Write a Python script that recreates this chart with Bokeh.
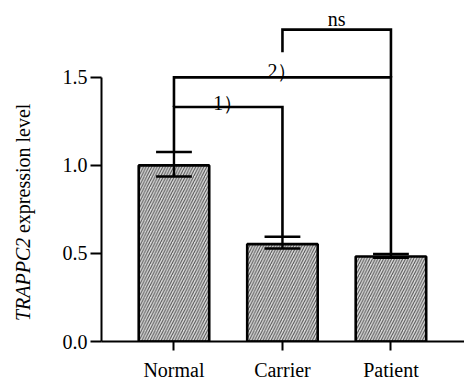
import math
from bokeh.plotting import figure
from bokeh.layouts import row
from bokeh.models import Range1d, FixedTicker, ColumnDataSource
from bokeh.embed import file_html
from bokeh.resources import INLINE

# ---- data ----
categories = ["Normal", "Carrier", "Patient"]
means = [1.00, 0.553, 0.483]
err_lower = [0.937, 0.528, 0.476]
err_upper = [1.076, 0.595, 0.497]

y_ticks = [0.0, 0.5, 1.0, 1.5]
y_tick_labels = ["0.0", "0.5", "1.0", "1.5"]

# significance brackets (index of left / right group)
br_left = [0, 0, 1]
br_right = [1, 2, 2]
br_height = [1.332, 1.500, 1.771]
br_left_bottom = [1.076, 1.332, 1.642]
br_right_bottom = [0.595, 0.497, 1.500]
br_labels = ["1）", "2）", "ns"]

y_title_italic = "TRAPPC2"
y_title_rest = "expression level"

FONT = "Liberation Serif"
xs = list(range(len(categories)))

H = 383
LEFT_W = 40
MAIN_W = 464 - LEFT_W
BOTTOM = 41
yr = Range1d(0, 1.9366)

p = figure(width=MAIN_W, height=H, output_backend="svg", toolbar_location=None,
           x_range=Range1d(-0.668, 2.678), y_range=yr,
           min_border_left=101 - LEFT_W, min_border_right=0, min_border_top=0,
           min_border_bottom=BOTTOM)
p.outline_line_color = None
p.grid.visible = False

# bars
p.vbar(x=xs, top=means, bottom=0, width=0.65,
       fill_color="#dcdcdc", line_color="black", line_width=2.6,
       hatch_pattern="/", hatch_color="#4a4a4a", hatch_scale=5.5,
       hatch_weight=1.0)

# error bars
cap = 0.33
p.segment(x0=xs, y0=err_lower, x1=xs, y1=err_upper,
          line_color="black", line_width=2.4)
p.segment(x0=[x - cap / 2 for x in xs], y0=err_upper,
          x1=[x + cap / 2 for x in xs], y1=err_upper,
          line_color="black", line_width=2.4)
p.segment(x0=[x - cap / 2 for x in xs], y0=err_lower,
          x1=[x + cap / 2 for x in xs], y1=err_lower,
          line_color="black", line_width=2.4)

# brackets
bx = [[xs[l], xs[l], xs[r], xs[r]] for l, r in zip(br_left, br_right)]
by = [[lb, h, h, rb] for lb, h, rb in zip(br_left_bottom, br_height, br_right_bottom)]
p.multi_line(xs=bx, ys=by, line_color="black", line_width=2.6,
             line_join="miter")

lab_src = ColumnDataSource(dict(
    x=[(xs[l] + xs[r]) / 2 for l, r in zip(br_left, br_right)],
    y=br_height, text=br_labels, yoff=[-4, -6, -11]))
p.text(x="x", y="y", text="text", source=lab_src, y_offset="yoff",
       text_align="center", text_baseline="alphabetic",
       text_font=FONT, text_font_size="20px", text_color="black")

# axes
for ax in (p.xaxis[0], p.yaxis[0]):
    ax.axis_line_width = 2
    ax.axis_line_color = "black"
    ax.major_tick_line_width = 2
    ax.major_tick_line_color = "black"
    ax.major_tick_in = 0
    ax.minor_tick_line_color = None
    ax.major_label_text_font = FONT
    ax.major_label_text_font_size = "20px"
    ax.major_label_text_color = "black"

p.xaxis.ticker = FixedTicker(ticks=xs)
p.xaxis.major_label_overrides = {x: c for x, c in zip(xs, categories)}
p.xaxis.major_tick_out = 9
p.xaxis.major_label_standoff = 8

p.yaxis.ticker = FixedTicker(ticks=y_ticks)
p.yaxis.major_label_overrides = {t: s for t, s in zip(y_ticks, y_tick_labels)}
p.yaxis.major_tick_out = 11
p.yaxis.major_label_standoff = 3
p.yaxis.bounds = (y_ticks[0], y_ticks[-1])

# left strip holding the y axis title (italic gene name + regular text)
t = figure(width=LEFT_W, height=H, output_backend="svg", toolbar_location=None,
           x_range=Range1d(0, LEFT_W), y_range=yr,
           x_axis_type=None, y_axis_type=None,
           min_border_left=0, min_border_right=0, min_border_top=0,
           min_border_bottom=BOTTOM)
t.outline_line_color = None
t.grid.visible = False
t.text(x=[22], y=[0.116], text=[y_title_italic], angle=math.pi / 2,
       text_align="left", text_baseline="alphabetic",
       text_font=FONT, text_font_style="italic", text_font_size="20px",
       text_color="black")
t.text(x=[22], y=[0.616], text=[y_title_rest], angle=math.pi / 2,
       text_align="left", text_baseline="alphabetic",
       text_font=FONT, text_font_size="20px", text_color="black")

layout = row(t, p, spacing=0)
open("out.html", "w").write(file_html(layout, INLINE))
